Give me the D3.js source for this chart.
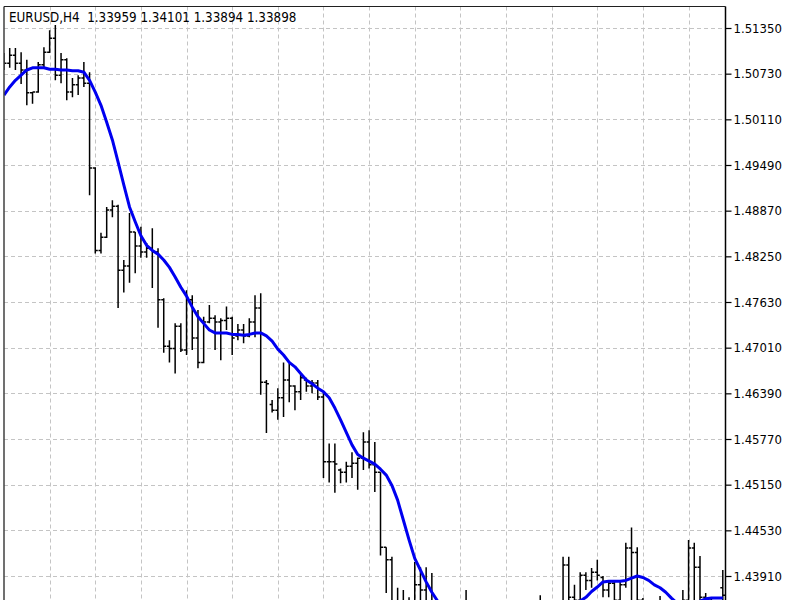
<!DOCTYPE html>
<html><head><meta charset="utf-8">
<script src="https://cdn.jsdelivr.net/npm/d3@7"></script>
<style>body{margin:0;background:#fff}svg{display:block}</style>
</head><body>
<svg id="c" width="800" height="600"></svg>
<script>
const symbolTitle = "EURUSD,H4";
const quoteTitle = ["1.33959", "1.34101", "1.33894", "1.33898"];
const priceTicks = [1.51350, 1.50730, 1.50110, 1.49490, 1.48870, 1.48250, 1.47630, 1.47010, 1.46390, 1.45770, 1.45150, 1.44530, 1.43910];

const open = [
1.5085,1.5087,1.5098,1.5087,1.5078,1.5047,1.5048,1.5085,1.5102,1.5121,
1.5071,1.5092,1.5048,1.5058,1.5067,1.5060,1.4945,1.4833,1.4851,1.4888,
1.4893,1.4806,1.4812,1.4858,1.4839,1.4831,1.4836,1.4831,1.4766,1.4703,
1.4700,1.4730,1.4698,1.4766,1.4714,1.4681,1.4736,1.4741,1.4736,1.4738,
1.4741,1.4717,1.4725,1.4717,1.4736,1.4755,1.4654,1.4624,1.4616,1.4633,
1.4657,1.4649,1.4641,1.4657,1.4649,1.4653,1.4634,1.4546,1.4546,1.4535,
1.4532,1.4540,1.4544,1.4551,1.4573,1.4542,1.4532,1.4430,1.4413,1.4345,
1.4342,1.4331,1.4304,1.4379,1.4372,1.4355,1.4338,1.4304,1.4290,1.4277,
1.4317,1.4290,1.4324,1.4277,1.4236,1.4222,1.4216,1.4263,1.4250,1.4236,
1.4277,1.4290,1.4304,1.4317,1.4331,1.4351,1.4324,1.4338,1.4351,1.4406,
1.4362,1.4358,1.4392,1.4385,1.4396,1.4389,1.4372,1.4381,1.4358,1.4379,
1.4429,1.4423,1.4358,1.4331,1.4317,1.4324,1.4345,1.4331,1.4317,1.4338,
1.4358,1.4429,1.4403,1.4362,1.4358,1.4338,1.4375];
const high = [
1.5101,1.5108,1.5108,1.5102,1.5092,1.5048,1.5089,1.5109,1.5132,1.5139,
1.5101,1.5094,1.5067,1.5071,1.5089,1.5075,1.4946,1.4857,1.4892,1.4901,
1.4895,1.4820,1.4884,1.4858,1.4865,1.4843,1.4863,1.4836,1.4768,1.4711,
1.4734,1.4734,1.4779,1.4772,1.4752,1.4743,1.4759,1.4745,1.4741,1.4757,
1.4743,1.4733,1.4733,1.4741,1.4772,1.4775,1.4657,1.4630,1.4646,1.4681,
1.4680,1.4650,1.4664,1.4660,1.4657,1.4657,1.4639,1.4571,1.4571,1.4537,
1.4546,1.4559,1.4552,1.4586,1.4589,1.4573,1.4532,1.4430,1.4417,1.4375,
1.4372,1.4362,1.4410,1.4403,1.4403,1.4395,1.4345,1.4338,1.4317,1.4331,
1.4324,1.4372,1.4338,1.4304,1.4290,1.4277,1.4290,1.4304,1.4284,1.4297,
1.4317,1.4324,1.4338,1.4345,1.4365,1.4351,1.4347,1.4355,1.4417,1.4417,
1.4379,1.4396,1.4396,1.4402,1.4413,1.4391,1.4385,1.4383,1.4385,1.4436,
1.4457,1.4430,1.4361,1.4345,1.4342,1.4364,1.4351,1.4345,1.4351,1.4372,
1.4440,1.4436,1.4418,1.4368,1.4361,1.4355,1.4399];
const low = [
1.5078,1.5081,1.5078,1.5059,1.5030,1.5032,1.5047,1.5082,1.5101,1.5064,
1.5060,1.5037,1.5041,1.5044,1.5055,1.4908,1.4829,1.4829,1.4850,1.4878,
1.4755,1.4776,1.4789,1.4802,1.4823,1.4823,1.4782,1.4728,1.4694,1.4681,
1.4666,1.4695,1.4691,1.4698,1.4673,1.4680,1.4734,1.4698,1.4684,1.4725,
1.4691,1.4711,1.4707,1.4715,1.4715,1.4637,1.4585,1.4613,1.4603,1.4607,
1.4627,1.4616,1.4630,1.4641,1.4639,1.4630,1.4524,1.4518,1.4504,1.4517,
1.4518,1.4524,1.4508,1.4535,1.4537,1.4505,1.4419,1.4368,1.4304,1.4317,
1.4304,1.4290,1.4304,1.4345,1.4342,1.4324,1.4290,1.4270,1.4250,1.4266,
1.4270,1.4290,1.4263,1.4222,1.4206,1.4195,1.4216,1.4229,1.4216,1.4229,
1.4250,1.4260,1.4277,1.4290,1.4304,1.4297,1.4304,1.4315,1.4331,1.4331,
1.4338,1.4345,1.4372,1.4375,1.4385,1.4362,1.4362,1.4351,1.4351,1.4375,
1.4345,1.4331,1.4304,1.4297,1.4290,1.4304,1.4304,1.4290,1.4304,1.4317,
1.4345,1.4351,1.4345,1.4331,1.4317,1.4324,1.4351];
const close = [
1.5087,1.5098,1.5087,1.5078,1.5047,1.5048,1.5085,1.5102,1.5121,1.5071,
1.5092,1.5048,1.5058,1.5067,1.5060,1.4945,1.4833,1.4851,1.4888,1.4893,
1.4806,1.4812,1.4858,1.4839,1.4831,1.4836,1.4831,1.4766,1.4703,1.4700,
1.4730,1.4698,1.4766,1.4714,1.4681,1.4736,1.4741,1.4736,1.4738,1.4741,
1.4714,1.4725,1.4717,1.4736,1.4755,1.4654,1.4652,1.4616,1.4633,1.4657,
1.4649,1.4641,1.4660,1.4649,1.4653,1.4634,1.4546,1.4546,1.4543,1.4532,
1.4540,1.4544,1.4551,1.4573,1.4542,1.4532,1.4430,1.4413,1.4345,1.4342,
1.4331,1.4304,1.4379,1.4372,1.4355,1.4338,1.4304,1.4290,1.4277,1.4317,
1.4290,1.4324,1.4277,1.4236,1.4222,1.4216,1.4263,1.4250,1.4236,1.4277,
1.4290,1.4304,1.4317,1.4331,1.4351,1.4324,1.4338,1.4351,1.4406,1.4362,
1.4358,1.4392,1.4385,1.4396,1.4392,1.4372,1.4381,1.4358,1.4379,1.4429,
1.4423,1.4358,1.4331,1.4317,1.4324,1.4345,1.4331,1.4317,1.4338,1.4358,
1.4429,1.4403,1.4362,1.4358,1.4338,1.4351,1.4365];
const movingAverage = [
1.5044,1.5055,1.5064,1.5071,1.5078,1.5081,1.5081,1.5081,1.5079,1.5079,
1.5078,1.5078,1.5077,1.5077,1.5075,1.5064,1.5048,1.5030,1.5007,1.4983,
1.4953,1.4922,1.4892,1.4872,1.4853,1.4840,1.4833,1.4828,1.4820,1.4810,
1.4797,1.4783,1.4771,1.4756,1.4743,1.4734,1.4725,1.4721,1.4721,1.4721,
1.4719,1.4719,1.4718,1.4719,1.4721,1.4721,1.4717,1.4710,1.4699,1.4691,
1.4681,1.4675,1.4666,1.4657,1.4652,1.4646,1.4641,1.4633,1.4619,1.4603,
1.4586,1.4569,1.4556,1.4551,1.4547,1.4543,1.4536,1.4528,1.4514,1.4494,
1.4467,1.4440,1.4415,1.4399,1.4383,1.4369,1.4357,1.4345,1.4331,1.4320,
1.4309,1.4301,1.4293,1.4285,1.4277,1.4271,1.4269,1.4267,1.4269,1.4273,
1.4279,1.4290,1.4297,1.4304,1.4313,1.4323,1.4331,1.4336,1.4342,1.4349,
1.4353,1.4357,1.4362,1.4370,1.4376,1.4383,1.4384,1.4384,1.4384,1.4385,
1.4388,1.4391,1.4389,1.4385,1.4379,1.4375,1.4369,1.4361,1.4354,1.4350,
1.4350,1.4353,1.4357,1.4360,1.4361,1.4361,1.4361];
const barsPerGridLine = 8;

const svg = d3.select("#c");
const plotL = 4, plotR = 725.5, plotT = 6.5, plotB = 700;
const fontFam = "'DejaVu Sans Condensed', 'DejaVu Sans', sans-serif";
const y = d3.scaleLinear()
  .domain([priceTicks[0], priceTicks[priceTicks.length - 1]])
  .range([28, 576]);
const x = d3.scaleLinear().domain([0, open.length - 1]).range([4, 722.8]);

svg.append("rect").attr("width", 800).attr("height", 600).attr("fill", "#fff");
svg.append("defs").append("clipPath").attr("id", "plot")
  .append("rect").attr("x", plotL).attr("y", plotT).attr("width", plotR - plotL).attr("height", plotB - plotT);

const grid = svg.append("g").attr("stroke", "#c4c4c4").attr("stroke-width", 1)
  .attr("stroke-dasharray", "4,3").attr("fill", "none");
grid.selectAll(".h").data(priceTicks).join("line")
  .attr("x1", plotL).attr("x2", plotR)
  .attr("y1", d => Math.round(y(d)) + 0.5).attr("y2", d => Math.round(y(d)) + 0.5);
const gridIdx = d3.range(barsPerGridLine, open.length, barsPerGridLine);
grid.selectAll(".v").data(gridIdx).join("line")
  .attr("x1", d => Math.round(x(d)) + 0.5).attr("x2", d => Math.round(x(d)) + 0.5)
  .attr("y1", plotT).attr("y2", plotB);

const plot = svg.append("g").attr("clip-path", "url(#plot)");
const bars = d3.range(open.length).map(i => ({i, o: open[i], h: high[i], l: low[i], c: close[i]}));
plot.append("g").attr("stroke", "#000").attr("fill", "none")
  .selectAll("path").data(bars).join("path")
  .attr("stroke-width", 1.5)
  .attr("d", d => {
    const cx = x(d.i);
    return `M${cx},${y(d.h)}V${y(d.l)}M${cx - 2.5},${y(d.o)}H${cx}M${cx},${y(d.c)}H${cx + 2.5}`;
  });

plot.append("path").datum(movingAverage)
  .attr("fill", "none").attr("stroke", "#0000f0").attr("stroke-width", 3)
  .attr("stroke-linejoin", "round")
  .attr("d", d3.line().x((d, i) => x(i)).y(d => y(d)));

// borders
svg.append("line").attr("x1", plotL).attr("x2", plotL).attr("y1", plotT).attr("y2", 600)
  .attr("stroke", "#404040").attr("stroke-width", 1.5);
svg.append("line").attr("x1", plotL).attr("x2", plotR).attr("y1", plotT).attr("y2", plotT)
  .attr("stroke", "#202020").attr("stroke-width", 1.2);
svg.append("line").attr("x1", plotR).attr("x2", plotR).attr("y1", plotT).attr("y2", 600)
  .attr("stroke", "#000").attr("stroke-width", 1.5);

const axis = d3.axisRight(y).tickValues(priceTicks).tickSize(6).tickSizeOuter(0)
  .tickPadding(2).tickFormat(d3.format(".5f"));
const ag = svg.append("g").attr("transform", `translate(${plotR},0)`).call(axis);
ag.select(".domain").remove();
ag.selectAll(".tick line").attr("stroke", "#000").attr("stroke-width", 1.2);
ag.selectAll(".tick text").attr("fill", "#000")
  .style("font-family", fontFam)
  .style("font-stretch", "condensed").style("font-size", "13px");

svg.append("text").attr("x", 9).attr("y", 22)
  .style("font-family", fontFam)
  .style("font-stretch", "condensed").style("font-size", "13.3px").attr("fill", "#000")
  .attr("xml:space", "preserve")
  .text(symbolTitle + "  " + quoteTitle.join(" "));
</script>
</body></html>
